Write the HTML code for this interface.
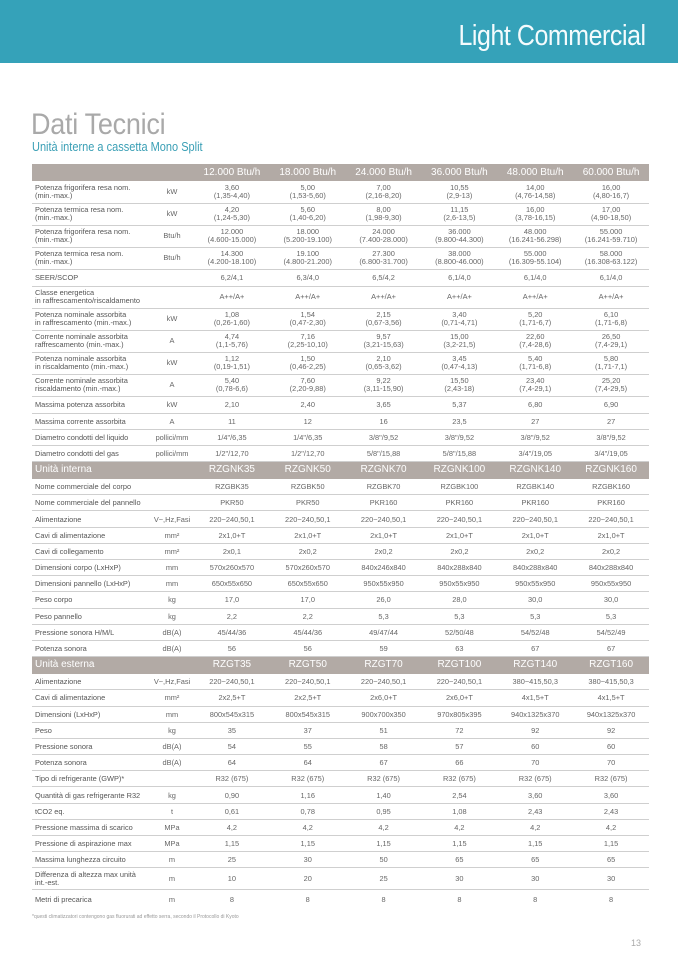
<!DOCTYPE html>
<html><head><meta charset="utf-8">
<style>
*{margin:0;padding:0;box-sizing:border-box}
body{width:678px;height:959px;background:#fff;position:relative;overflow:hidden;font-family:"Liberation Sans",sans-serif;}
.banner{position:absolute;left:0;top:0;width:678px;height:63px;background:#35a2b9;}
.banner span{position:absolute;right:32px;top:20px;color:#f4fbfd;font-size:29px;font-weight:300;letter-spacing:-0.5px;transform:scaleX(0.86);transform-origin:right center;}
.title{position:absolute;left:31px;top:108px;font-size:30px;color:#a9a9a9;transform:scaleX(0.9);transform-origin:left;letter-spacing:-0.3px}
.sub{position:absolute;left:32px;top:140px;font-size:12.5px;color:#3a9fb5;transform:scaleX(0.88);transform-origin:left}
table{position:absolute;left:32px;top:164px;width:617px;border-collapse:collapse;table-layout:fixed;font-size:7.4px;color:#666;}
td{border-bottom:1px solid #cfcfcf;line-height:8px;text-align:center;padding:0;vertical-align:middle;white-space:nowrap;overflow:hidden}
td:first-child{text-align:left;padding-left:3px;color:#555}
tr.h td{background:#b2aaa5;color:#fff;font-size:10px;border-bottom:none;height:17px}
tr.h td:first-child{font-size:10px;color:#fff}
tr.d td{height:22px}
tr.s td{height:16.2px;padding-top:1px}
.foot{position:absolute;left:32px;top:914px;font-size:5px;color:#999}
.pg{position:absolute;left:631px;top:938px;font-size:9px;color:#aaa}
</style></head><body>
<div class="banner"><span>Light Commercial</span></div>
<div class="title">Dati Tecnici</div>
<div class="sub">Unità interne a cassetta Mono Split</div>
<table>
<colgroup><col style="width:118px"><col style="width:44px"><col><col><col><col><col><col></colgroup>
<tr class="h"><td></td><td></td><td>12.000 Btu/h</td><td>18.000 Btu/h</td><td>24.000 Btu/h</td><td>36.000 Btu/h</td><td>48.000 Btu/h</td><td>60.000 Btu/h</td></tr>
<tr class="d"><td>Potenza frigorifera resa nom.<br>(min.-max.)</td><td>kW</td><td>3,60<br>(1,35-4,40)</td><td>5,00<br>(1,53-5,60)</td><td>7,00<br>(2,16-8,20)</td><td>10,55<br>(2,9-13)</td><td>14,00<br>(4,76-14,58)</td><td>16,00<br>(4,80-16,7)</td></tr>
<tr class="d"><td>Potenza termica resa nom.<br>(min.-max.)</td><td>kW</td><td>4,20<br>(1,24-5,30)</td><td>5,60<br>(1,40-6,20)</td><td>8,00<br>(1,98-9,30)</td><td>11,15<br>(2,6-13,5)</td><td>16,00<br>(3,78-16,15)</td><td>17,00<br>(4,90-18,50)</td></tr>
<tr class="d"><td>Potenza frigorifera resa nom.<br>(min.-max.)</td><td>Btu/h</td><td>12.000<br>(4.600-15.000)</td><td>18.000<br>(5.200-19.100)</td><td>24.000<br>(7.400-28.000)</td><td>36.000<br>(9.800-44.300)</td><td>48.000<br>(16.241-56.298)</td><td>55.000<br>(16.241-59.710)</td></tr>
<tr class="d"><td>Potenza termica resa nom.<br>(min.-max.)</td><td>Btu/h</td><td>14.300<br>(4.200-18.100)</td><td>19.100<br>(4.800-21.200)</td><td>27.300<br>(6.800-31.700)</td><td>38.000<br>(8.800-46.000)</td><td>55.000<br>(16.309-55.104)</td><td>58.000<br>(16.308-63.122)</td></tr>
<tr class="s" style="height:17px"><td>SEER/SCOP</td><td></td><td>6,2/4,1</td><td>6,3/4,0</td><td>6,5/4,2</td><td>6,1/4,0</td><td>6,1/4,0</td><td>6,1/4,0</td></tr>
<tr class="d"><td>Classe energetica<br>in raffrescamento/riscaldamento</td><td></td><td>A++/A+</td><td>A++/A+</td><td>A++/A+</td><td>A++/A+</td><td>A++/A+</td><td>A++/A+</td></tr>
<tr class="d"><td>Potenza nominale assorbita<br>in raffrescamento (min.-max.)</td><td>kW</td><td>1,08<br>(0,26-1,60)</td><td>1,54<br>(0,47-2,30)</td><td>2,15<br>(0,67-3,56)</td><td>3,40<br>(0,71-4,71)</td><td>5,20<br>(1,71-6,7)</td><td>6,10<br>(1,71-6,8)</td></tr>
<tr class="d"><td>Corrente nominale assorbita<br>raffrescamento (min.-max.)</td><td>A</td><td>4,74<br>(1,1-5,76)</td><td>7,16<br>(2,25-10,10)</td><td>9,57<br>(3,21-15,63)</td><td>15,00<br>(3,2-21,5)</td><td>22,60<br>(7,4-28,6)</td><td>26,50<br>(7,4-29,1)</td></tr>
<tr class="d"><td>Potenza nominale assorbita<br>in riscaldamento (min.-max.)</td><td>kW</td><td>1,12<br>(0,19-1,51)</td><td>1,50<br>(0,46-2,25)</td><td>2,10<br>(0,65-3,62)</td><td>3,45<br>(0,47-4,13)</td><td>5,40<br>(1,71-6,8)</td><td>5,80<br>(1,71-7,1)</td></tr>
<tr class="d"><td>Corrente nominale assorbita<br>riscaldamento (min.-max.)</td><td>A</td><td>5,40<br>(0,78-6,6)</td><td>7,60<br>(2,20-9,88)</td><td>9,22<br>(3,11-15,90)</td><td>15,50<br>(2,43-18)</td><td>23,40<br>(7,4-29,1)</td><td>25,20<br>(7,4-29,5)</td></tr>
<tr class="s" style="height:17px"><td>Massima potenza assorbita</td><td>kW</td><td>2,10</td><td>2,40</td><td>3,65</td><td>5,37</td><td>6,80</td><td>6,90</td></tr>
<tr class="s"><td>Massima corrente assorbita</td><td>A</td><td>11</td><td>12</td><td>16</td><td>23,5</td><td>27</td><td>27</td></tr>
<tr class="s"><td>Diametro condotti del liquido</td><td>pollici/mm</td><td>1/4"/6,35</td><td>1/4"/6,35</td><td>3/8"/9,52</td><td>3/8"/9,52</td><td>3/8"/9,52</td><td>3/8"/9,52</td></tr>
<tr class="s"><td>Diametro condotti del gas</td><td>pollici/mm</td><td>1/2"/12,70</td><td>1/2"/12,70</td><td>5/8"/15,88</td><td>5/8"/15,88</td><td>3/4"/19,05</td><td>3/4"/19,05</td></tr>
<tr class="h"><td>Unità interna</td><td></td><td>RZGNK35</td><td>RZGNK50</td><td>RZGNK70</td><td>RZGNK100</td><td>RZGNK140</td><td>RZGNK160</td></tr>
<tr class="s"><td>Nome commerciale del corpo</td><td></td><td>RZGBK35</td><td>RZGBK50</td><td>RZGBK70</td><td>RZGBK100</td><td>RZGBK140</td><td>RZGBK160</td></tr>
<tr class="s"><td>Nome commerciale del pannello</td><td></td><td>PKR50</td><td>PKR50</td><td>PKR160</td><td>PKR160</td><td>PKR160</td><td>PKR160</td></tr>
<tr class="s"><td>Alimentazione</td><td>V~,Hz,Fasi</td><td>220~240,50,1</td><td>220~240,50,1</td><td>220~240,50,1</td><td>220~240,50,1</td><td>220~240,50,1</td><td>220~240,50,1</td></tr>
<tr class="s"><td>Cavi di alimentazione</td><td>mm²</td><td>2x1,0+T</td><td>2x1,0+T</td><td>2x1,0+T</td><td>2x1,0+T</td><td>2x1,0+T</td><td>2x1,0+T</td></tr>
<tr class="s"><td>Cavi di collegamento</td><td>mm²</td><td>2x0,1</td><td>2x0,2</td><td>2x0,2</td><td>2x0,2</td><td>2x0,2</td><td>2x0,2</td></tr>
<tr class="s"><td>Dimensioni corpo (LxHxP)</td><td>mm</td><td>570x260x570</td><td>570x260x570</td><td>840x246x840</td><td>840x288x840</td><td>840x288x840</td><td>840x288x840</td></tr>
<tr class="s"><td>Dimensioni pannello (LxHxP)</td><td>mm</td><td>650x55x650</td><td>650x55x650</td><td>950x55x950</td><td>950x55x950</td><td>950x55x950</td><td>950x55x950</td></tr>
<tr class="s"><td>Peso corpo</td><td>kg</td><td>17,0</td><td>17,0</td><td>26,0</td><td>28,0</td><td>30,0</td><td>30,0</td></tr>
<tr class="s"><td>Peso pannello</td><td>kg</td><td>2,2</td><td>2,2</td><td>5,3</td><td>5,3</td><td>5,3</td><td>5,3</td></tr>
<tr class="s"><td>Pressione sonora H/M/L</td><td>dB(A)</td><td>45/44/36</td><td>45/44/36</td><td>49/47/44</td><td>52/50/48</td><td>54/52/48</td><td>54/52/49</td></tr>
<tr class="s"><td>Potenza sonora</td><td>dB(A)</td><td>56</td><td>56</td><td>59</td><td>63</td><td>67</td><td>67</td></tr>
<tr class="h"><td>Unità esterna</td><td></td><td>RZGT35</td><td>RZGT50</td><td>RZGT70</td><td>RZGT100</td><td>RZGT140</td><td>RZGT160</td></tr>
<tr class="s"><td>Alimentazione</td><td>V~,Hz,Fasi</td><td>220~240,50,1</td><td>220~240,50,1</td><td>220~240,50,1</td><td>220~240,50,1</td><td>380~415,50,3</td><td>380~415,50,3</td></tr>
<tr class="s"><td>Cavi di alimentazione</td><td>mm²</td><td>2x2,5+T</td><td>2x2,5+T</td><td>2x6,0+T</td><td>2x6,0+T</td><td>4x1,5+T</td><td>4x1,5+T</td></tr>
<tr class="s"><td>Dimensioni (LxHxP)</td><td>mm</td><td>800x545x315</td><td>800x545x315</td><td>900x700x350</td><td>970x805x395</td><td>940x1325x370</td><td>940x1325x370</td></tr>
<tr class="s"><td>Peso</td><td>kg</td><td>35</td><td>37</td><td>51</td><td>72</td><td>92</td><td>92</td></tr>
<tr class="s"><td>Pressione sonora</td><td>dB(A)</td><td>54</td><td>55</td><td>58</td><td>57</td><td>60</td><td>60</td></tr>
<tr class="s"><td>Potenza sonora</td><td>dB(A)</td><td>64</td><td>64</td><td>67</td><td>66</td><td>70</td><td>70</td></tr>
<tr class="s"><td>Tipo di refrigerante (GWP)*</td><td></td><td>R32 (675)</td><td>R32 (675)</td><td>R32 (675)</td><td>R32 (675)</td><td>R32 (675)</td><td>R32 (675)</td></tr>
<tr class="s"><td>Quantità di gas refrigerante R32</td><td>kg</td><td>0,90</td><td>1,16</td><td>1,40</td><td>2,54</td><td>3,60</td><td>3,60</td></tr>
<tr class="s"><td>tCO2 eq.</td><td>t</td><td>0,61</td><td>0,78</td><td>0,95</td><td>1,08</td><td>2,43</td><td>2,43</td></tr>
<tr class="s"><td>Pressione massima di scarico</td><td>MPa</td><td>4,2</td><td>4,2</td><td>4,2</td><td>4,2</td><td>4,2</td><td>4,2</td></tr>
<tr class="s"><td>Pressione di aspirazione max</td><td>MPa</td><td>1,15</td><td>1,15</td><td>1,15</td><td>1,15</td><td>1,15</td><td>1,15</td></tr>
<tr class="s"><td>Massima lunghezza circuito</td><td>m</td><td>25</td><td>30</td><td>50</td><td>65</td><td>65</td><td>65</td></tr>
<tr class="d"><td>Differenza di altezza max unità<br>int.-est.</td><td>m</td><td>10</td><td>20</td><td>25</td><td>30</td><td>30</td><td>30</td></tr>
<tr class="s" style="height:19px"><td style="border-bottom:none">Metri di precarica</td><td style="border-bottom:none">m</td><td style="border-bottom:none">8</td><td style="border-bottom:none">8</td><td style="border-bottom:none">8</td><td style="border-bottom:none">8</td><td style="border-bottom:none">8</td><td style="border-bottom:none">8</td></tr>
</table>
<div class="foot">*questi climatizzatori contengono gas fluorurati ad effetto serra, secondo il Protocollo di Kyoto</div>
<div class="pg">13</div>
</body></html>
